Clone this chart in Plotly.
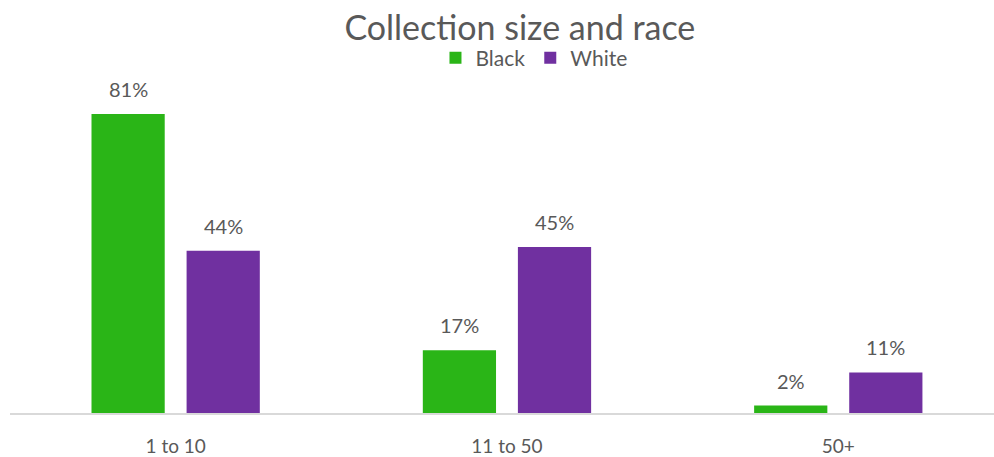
import plotly.graph_objects as go

# Share of collectors by collection size
categories = ["1 to 10", "11 to 50", "50+"]
black_pct = [81, 17, 2]
white_pct = [44, 45, 11]
series_names = ["Black", "White"]

GREEN = "#2ab517"
PURPLE = "#7030a0"
TEXT = "#595959"
FONT = "Lato"

fig = go.Figure()
fig.add_trace(go.Bar(name=series_names[0], x=categories, y=black_pct,
                     marker=dict(color=GREEN, line=dict(width=0))))
fig.add_trace(go.Bar(name=series_names[1], x=categories, y=white_pct,
                     marker=dict(color=PURPLE, line=dict(width=0))))

# Value labels above each bar, offset by group slot
for k, vals in enumerate([black_pct, white_pct]):
    offset = -0.143 if k == 0 else 0.143
    for i, v in enumerate(vals):
        fig.add_annotation(x=i + offset, y=v, xref="x", yref="y",
                           text=f"{v}%", showarrow=False, yshift=25,
                           font=dict(family=FONT, size=20, color=TEXT))

fig.update_layout(
    width=994, height=457,
    margin=dict(l=10, r=0, t=44, b=40),
    paper_bgcolor="white", plot_bgcolor="white",
    barmode="group", bargap=0.426, bargroupgap=0.23,
    title=dict(text="Collection size and race", x=0.523, xanchor="center",
               y=1 - 28 / 457, yanchor="middle", yref="container",
               font=dict(family=FONT, size=34, color=TEXT)),
    legend=dict(orientation="h", x=0.5325, xanchor="center", y=0.962,
                yanchor="middle", font=dict(family=FONT, size=21, color=TEXT),
                bgcolor="rgba(0,0,0,0)", itemwidth=30, tracegroupgap=0),
    xaxis=dict(range=[-0.5, 2.47], showgrid=False, showline=True,
               linecolor="#d9d9d9", linewidth=1.5, ticks="",
               tickfont=dict(family=FONT, size=19, color=TEXT), ticklabelstandoff=15),
    yaxis=dict(range=[0, 100], visible=False, showgrid=False, zeroline=False),
)

fig.write_html("out.html")
